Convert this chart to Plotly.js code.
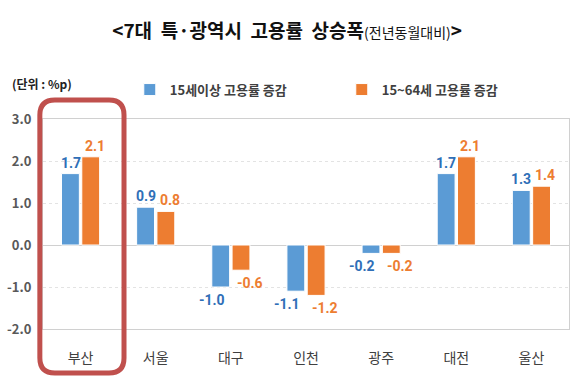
<!DOCTYPE html>
<html>
<head>
<meta charset="utf-8">
<script src="https://cdn.plot.ly/plotly-3.0.1.min.js"></script>
<style>html,body{margin:0;padding:0;background:#fff;}#chart{width:580px;height:384px;}</style>
</head>
<body>
<div id="chart"></div>
<script>
const categories = ['부산', '서울', '대구', '인천', '광주', '대전', '울산'];
const age15plus = [1.7, 0.9, -1.0, -1.1, -0.2, 1.7, 1.3];
const age15to64 = [2.1, 0.8, -0.6, -1.2, -0.2, 2.1, 1.4];
const seriesNames = ['15세이상 고용률 증감', '15~64세 고용률 증감'];
const yTicks = [-2, -1, 0, 1, 2, 3];

const FONT = '"Noto Sans CJK KR", "Noto Sans", sans-serif';
const NUMFONT = 'Roboto, "Noto Sans", sans-serif';
const fmt = v => v.toFixed(1);

const BLUE = '#5b9bd5', ORANGE = '#ed7d31';
const traces = [
  {
    type: 'bar', name: seriesNames[0], x: categories, y: age15plus, legend: 'legend',
    marker: {color: BLUE, line: {color: '#ffffff', width: 1}}, hoverinfo: 'none'
  },
  {
    type: 'bar', name: seriesNames[1], x: categories, y: age15to64, legend: 'legend2',
    marker: {color: ORANGE, line: {color: '#ffffff', width: 1}}, hoverinfo: 'none'
  }
];

// value labels placed through the axes (Excel-style: negative labels pushed outward)
function labels(values, side, color) {
  return values.map((v, i) => {
    const barShift = side * 10;
    const extra = v < 0 ? side * 9 : (side > 0 ? 4 : 0);
    return {
      x: categories[i], y: v, xref: 'x', yref: 'y', text: '<b>' + fmt(v) + '</b>',
      showarrow: false, xanchor: 'center', yanchor: v < 0 ? 'top' : 'bottom',
      xshift: barShift + extra, yshift: v < 0 ? -3 : 1,
      font: {family: NUMFONT, size: 14, color: color}
    };
  });
}

const rx = 15 / 526, ry = 15 / 210;
const x0 = -0.006, x1 = 0.154, y0 = -0.21, y1 = 1.09;
const boxPath = `M ${x0 + rx},${y1} L ${x1 - rx},${y1} Q ${x1},${y1} ${x1},${y1 - ry} L ${x1},${y0 + ry} Q ${x1},${y0} ${x1 - rx},${y0} L ${x0 + rx},${y0} Q ${x0},${y0} ${x0},${y0 + ry} L ${x0},${y1 - ry} Q ${x0},${y1} ${x0 + rx},${y1} Z`;

const legendBase = {
  orientation: 'h', xanchor: 'left', y: 1.14, yanchor: 'middle',
  font: {family: FONT, size: 13, color: '#404040', weight: 'bold'},
  itemwidth: 30, bgcolor: 'rgba(0,0,0,0)'
};

const layout = {
  width: 580, height: 384,
  margin: {l: 43, r: 11, t: 119, b: 55},
  paper_bgcolor: '#ffffff', plot_bgcolor: '#ffffff',
  font: {family: FONT, color: '#404040'},
  title: {
    text: '<b>&lt;7대  특·광역시  고용률  상승폭</b><span style="font-size:14px">(전년동월대비)</span><b>&gt;</b>',
    font: {family: FONT, size: 19, color: '#111111'},
    x: 0.495, xref: 'container', xanchor: 'center',
    y: 1 - 31 / 384, yref: 'container', yanchor: 'middle'
  },
  barmode: 'group', bargap: 0.46, bargroupgap: 0.12,
  showlegend: true,
  legend: Object.assign({}, legendBase, {x: 0.165}),
  legend2: Object.assign({}, legendBase, {x: 0.568}),
  xaxis: {
    type: 'category', tickfont: {family: FONT, size: 14, color: '#404040'},
    ticks: '', showgrid: false, ticklabelstandoff: 16,
    showline: true, linecolor: '#d0d0d0', linewidth: 1, mirror: true, fixedrange: true
  },
  yaxis: {
    range: [-2, 3], tickvals: yTicks, ticktext: yTicks.map(fmt),
    tickfont: {family: FONT, size: 13, color: '#595959', weight: 'bold'},
    ticklabelstandoff: 8,
    showgrid: true, gridcolor: '#e3e3e3', griddash: 'dot', gridwidth: 1,
    zeroline: true, zerolinecolor: '#d0d0d0', zerolinewidth: 1,
    showline: true, linecolor: '#d0d0d0', linewidth: 1, mirror: true,
    ticks: '', fixedrange: true
  },
  annotations: [{
    text: '<b>(단위 : %p)</b>', xref: 'paper', yref: 'paper',
    x: -0.063, xanchor: 'left', y: 1.167, yanchor: 'middle', showarrow: false,
    font: {family: FONT, size: 12, color: '#222222'}
  }].concat(labels(age15plus, -1, '#2f6fb7'), labels(age15to64, 1, '#ed7d31')),
  shapes: [{
    type: 'path', xref: 'paper', yref: 'paper', path: boxPath,
    line: {color: '#c0504d', width: 5}, fillcolor: 'rgba(0,0,0,0)', layer: 'above'
  }]
};

Plotly.newPlot('chart', traces, layout, {displayModeBar: false, staticPlot: true});
</script>
</body>
</html>
